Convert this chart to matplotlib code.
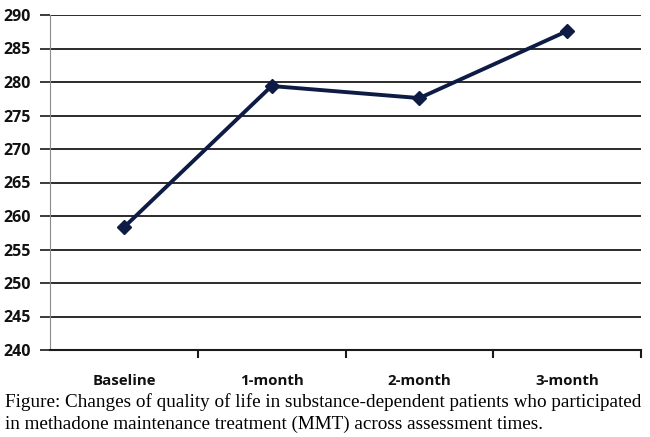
import numpy as np
import matplotlib
matplotlib.use("Agg")
import matplotlib.pyplot as plt

# assessment times and mean quality-of-life scores
times = ["Baseline", "1-month", "2-month", "3-month"]
qol = [258.3, 279.4, 277.6, 287.6]
yticks = list(range(240, 291, 5))

caption = ("Figure: Changes of quality of life in substance-dependent patients who participated\n"
           "in methadone maintenance treatment (MMT) across assessment times.")

fig = plt.figure(figsize=(6.5, 4.37), dpi=100)
ax = fig.add_axes([50 / 650, 1 - 350 / 437, 591 / 650, 335 / 437])

x = np.arange(len(times))
ax.plot(x, qol, "-D", color="#0d1b45", lw=2.8, ms=7, mec="#0d1b45", mfc="#0d1b45",
        zorder=3)

ax.set_ylim(240, 290)
ax.set_yticks(yticks)
ax.yaxis.grid(True, color="#1a1a1a", lw=1.3)
ax.set_axisbelow(True)
ax.tick_params(axis="y", length=7, width=1.2, color="#1a1a1a", pad=7)

ax.set_xlim(-0.5, 3.5)
ax.set_xticks(x)
ax.set_xticklabels(times)
ax.set_xticks([0.5, 1.5, 2.5, 3.5], minor=True)
ax.tick_params(axis="x", which="major", length=0, pad=17.5)
ax.tick_params(axis="x", which="minor", length=6, width=1.5, color="#1a1a1a")

for lab in ax.get_xticklabels():
    lab.set_fontfamily("Open Sans")
    lab.set_fontweight("bold")
    lab.set_fontsize(10.8)
    lab.set_color("#111111")
for lab in ax.get_yticklabels():
    lab.set_fontfamily("Open Sans")
    lab.set_fontweight("bold")
    lab.set_fontsize(11.5)
    lab.set_color("#111111")

ax.spines["top"].set_visible(False)
ax.spines["right"].set_visible(False)
ax.spines["left"].set_color("#8c8c8c")
ax.spines["bottom"].set_color("#1a1a1a")
ax.spines["bottom"].set_linewidth(1.5)

fig.text(5 / 650, 1 - 393 / 437, caption, family="Liberation Serif", fontsize=13.8,
         va="top", ha="left", linespacing=1.38)

fig.savefig("out.png", dpi=100)
